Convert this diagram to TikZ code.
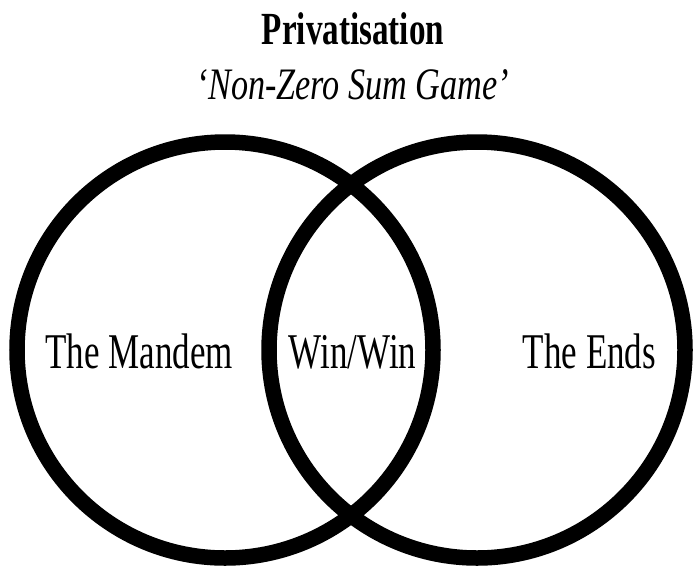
\documentclass[tikz,border=0pt]{standalone}
\usepackage{fontspec}
\setmainfont[FakeStretch=0.70]{Liberation Serif}
\newfontfamily\titlefont[FakeStretch=0.72]{Liberation Serif}
\newfontfamily\subfont[FakeStretch=0.76]{Liberation Serif}
\begin{document}
\begin{tikzpicture}[x=1pt,y=-1pt,
  ring/.style={draw=black,line width=15.5pt},
  label/.style={anchor=base,inner sep=0pt,font=\fontsize{50}{55}\selectfont},
  ttl/.style={anchor=base,inner sep=0pt}]
\useasboundingbox (0,0) rectangle (695,568);
\draw[ring] (225,350) circle[radius=208];
\draw[ring] (477,350) circle[radius=208];
\node[ttl,font=\titlefont\bfseries\fontsize{46}{50}\selectfont] (t1) at (353,44) {Privatisation};
\node[ttl,font=\subfont\itshape\fontsize{45}{50}\selectfont] (t2) at (353,99) {‘Non-Zero Sum Game’};
\node[label] (a) at (139,368) {The Mandem};
\node[label] (b) at (352.5,368) {Win/Win};
\node[label] (c) at (589.5,368) {The Ends};
\end{tikzpicture}
\end{document}
